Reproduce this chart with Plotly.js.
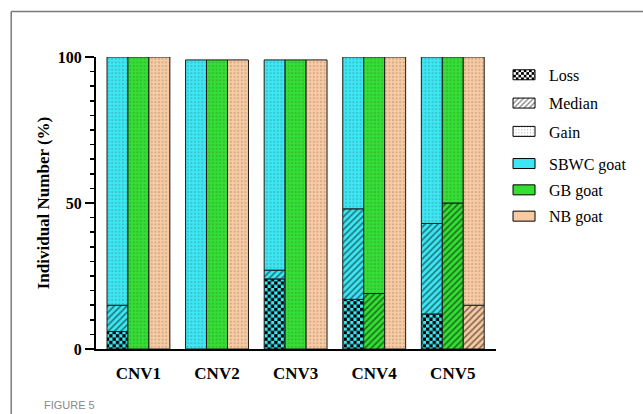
<!DOCTYPE html>
<html>
<head>
<meta charset="utf-8">
<script src="https://cdn.plot.ly/plotly-3.0.1.min.js"></script>
<style>
html,body{margin:0;padding:0;background:#fff;}
#chart{width:643px;height:414px;}
</style>
</head>
<body>
<div id="chart"></div>
<script>
// ---- data ----
const categories = ['CNV1', 'CNV2', 'CNV3', 'CNV4', 'CNV5'];
const breeds = ['SBWC goat', 'GB goat', 'NB goat'];
const types = ['Loss', 'Median', 'Gain'];

const sbwcLoss   = [6, 0, 24, 17, 12];
const sbwcMedian = [9, 0, 3, 31, 31];
const sbwcGain   = [85, 99, 72, 52, 57];

const gbLoss   = [0, 0, 0, 0, 0];
const gbMedian = [0, 0, 0, 19, 50];
const gbGain   = [100, 99, 99, 81, 50];

const nbLoss   = [0, 0, 0, 0, 0];
const nbMedian = [0, 0, 0, 0, 15];
const nbGain   = [100, 99, 99, 100, 85];

const yTicks = [0, 50, 100];

// ---- styles ----
const FONT = 'Liberation Serif, Times New Roman, serif';
const breedColors = ['rgb(60,230,242)', 'rgb(52,222,52)', 'rgb(248,202,162)'];
const LOSS_MARK = 'rgb(0,0,1)';
const patterns = {
  Loss:   {shape: '.', size: 6.6, solidity: 0.5, fgcolor: LOSS_MARK, fillmode: 'overlay'},
  Median: {shape: '/', size: 4.5, solidity: 0.35, fgcolor: '#000', fillmode: 'overlay'},
  Gain:   {shape: '.', size: 3.6, solidity: 0.12, fgcolor: '#333', fillmode: 'overlay'}
};

const seriesByBreed = [
  [sbwcLoss, sbwcMedian, sbwcGain],
  [gbLoss, gbMedian, gbGain],
  [nbLoss, nbMedian, nbGain]
];

const traces = [];
seriesByBreed.forEach((series, b) => {
  const base = categories.map(() => 0);
  series.forEach((vals, t) => {
    traces.push({
      type: 'bar',
      x: categories,
      y: vals.map(v => v === 0 ? null : v),
      base: base.slice(),
      offsetgroup: String(b),
      marker: {
        color: breedColors[b],
        line: {color: '#1a1a1a', width: 1},
        pattern: patterns[types[t]]
      },
      showlegend: false,
      hoverinfo: 'skip'
    });
    vals.forEach((v, i) => { base[i] += v; });
  });
});

// legend entries
types.forEach((t, i) => {
  traces.push({
    type: 'bar', x: [null], y: [null], name: t,
    marker: {color: '#fff', line: {color: '#000', width: 1}, pattern: patterns[t]},
    legendgroup: 'g' + i, showlegend: true, legend: 'legend'
  });
});
breeds.forEach((b, i) => {
  traces.push({
    type: 'bar', x: [null], y: [null], name: b,
    marker: {color: breedColors[i], line: {color: '#000', width: 1}},
    legendgroup: 'h' + i, showlegend: true, legend: 'legend2'
  });
});

const legendFont = {family: FONT, size: 16, color: '#000'};
const layout = {
  width: 643, height: 414,
  margin: {l: 96, r: 146, t: 57, b: 65},
  paper_bgcolor: '#fff', plot_bgcolor: '#fff',
  barmode: 'group', bargap: 0.2, bargroupgap: 0,
  font: {family: FONT, color: '#000'},
  showlegend: true,
  legend: {
    x: 1.03, xanchor: 'left', y: 0.997, yanchor: 'top',
    font: legendFont, tracegroupgap: 4.5, traceorder: 'grouped',
    bgcolor: 'rgba(0,0,0,0)'
  },
  legend2: {
    x: 1.03, xanchor: 'left', y: 0.693, yanchor: 'top',
    font: legendFont, tracegroupgap: 2.5, traceorder: 'grouped',
    bgcolor: 'rgba(0,0,0,0)'
  },
  xaxis: {
    type: 'category', range: [-0.54, 4.55],
    showline: true, linecolor: '#000', linewidth: 2,
    ticks: '', showgrid: false, zeroline: false,
    tickfont: {family: FONT, size: 17, weight: 'bold', color: '#000'},
    ticklabelstandoff: 8
  },
  yaxis: {
    range: [0, 100], tickvals: yTicks,
    showline: true, linecolor: '#000', linewidth: 2,
    ticks: 'outside', ticklen: 9, tickwidth: 2, tickcolor: '#000',
    minor: {dtick: 5, ticks: 'outside', ticklen: 4, tickwidth: 1.5, tickcolor: '#000', showgrid: false},
    showgrid: false, zeroline: false,
    tickfont: {family: FONT, size: 16, weight: 'bold', color: '#000'},
    title: {text: 'Individual Number (%)', font: {family: FONT, size: 17, weight: 'bold', color: '#000'}, standoff: 4}
  },
  shapes: [
    {type: 'line', xref: 'paper', yref: 'paper', x0: -0.212, x1: -0.212, y0: 1.156, y1: -0.3, line: {color: '#7a7a7a', width: 1.5}},
    {type: 'line', xref: 'paper', yref: 'paper', x0: -0.212, x1: 1.4, y0: 1.156, y1: 1.156, line: {color: '#7a7a7a', width: 1.5}}
  ],
  annotations: [
    {xref: 'paper', yref: 'paper', x: -0.135, y: -0.22, xanchor: 'left', yanchor: 'bottom', showarrow: false,
     text: 'FIGURE 5', font: {family: 'Liberation Sans, Arial, sans-serif', size: 11, color: '#888'}}
  ]
};

function restyleTextures() {
  // Turn the Loss dot texture into a checkerboard
  document.querySelectorAll('pattern').forEach(p => {
    const c = p.querySelector('circle');
    if (!c) return;
    const fill = (c.getAttribute('fill') || c.style.fill || '').replace(/\s/g, '');
    if (fill !== 'rgb(0,0,1)') return;
    const w = parseFloat(p.getAttribute('width'));
    const h = parseFloat(p.getAttribute('height'));
    const ns = 'http://www.w3.org/2000/svg';
    [[0, 0], [w / 2, h / 2]].forEach(([x, y]) => {
      const r = document.createElementNS(ns, 'rect');
      r.setAttribute('x', x); r.setAttribute('y', y);
      r.setAttribute('width', w / 2); r.setAttribute('height', h / 2);
      r.setAttribute('fill', '#000');
      p.appendChild(r);
    });
    c.remove();
  });
  // Wider legend swatches like the original
  document.querySelectorAll('.legendpoints path').forEach(el => {
    const d = (el.getAttribute('d') || '').replace(/\s/g, '');
    if (d === 'M6,6H-6V-6H6Z') el.setAttribute('d', 'M6,5H-16V-5H6Z');
  });
}

Plotly.newPlot('chart', traces, layout, {staticPlot: true, displayModeBar: false}).then(restyleTextures);
</script>
</body>
</html>
